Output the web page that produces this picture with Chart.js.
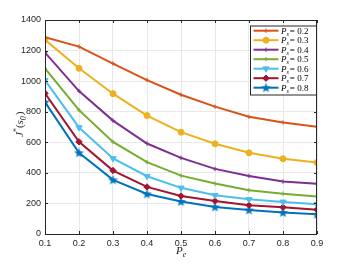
<!DOCTYPE html>
<html>
<head>
<meta charset="utf-8">
<script src="https://cdn.jsdelivr.net/npm/chart.js@4/dist/chart.umd.min.js"></script>
<style>
  html, body { margin: 0; padding: 0; background: #fff; }
  #wrap { width: 350px; height: 263px; position: relative; }
</style>
</head>
<body>
<div id="wrap"><canvas id="chart" width="350" height="263"></canvas></div>
<script>
const pe = [0.1, 0.2, 0.3, 0.4, 0.5, 0.6, 0.7, 0.8, 0.9];
const ps = ["0.2", "0.3", "0.4", "0.5", "0.6", "0.7", "0.8"];

const ps02 = [1288, 1226, 1115, 1007, 911, 833, 767, 730, 702];
const ps03 = [1270, 1084, 918, 775, 666, 590, 531, 492, 468];
const ps04 = [1187, 935, 742, 592, 498, 426, 380, 343, 328];
const ps05 = [1084, 810, 602, 470, 382, 330, 286, 264, 245];
const ps06 = [1005, 697, 494, 378, 302, 253, 227, 210, 194];
const ps07 = [920, 603, 415, 308, 249, 216, 188, 175, 159];
const ps08 = [863, 531, 354, 262, 212, 177, 157, 140, 129];

const yTicks = [0, 200, 400, 600, 800, 1000, 1200, 1400];

const mathFont = "'Liberation Serif', 'Times New Roman', serif";

// pentagram marker like matlab 'p'
function makeStar(color) {
  const c = document.createElement("canvas");
  c.width = 11;
  c.height = 11;
  const g = c.getContext("2d");
  g.fillStyle = color;
  g.beginPath();
  for (let i = 0; i < 10; i++) {
    const r = i % 2 === 0 ? 5.2 : 2.1;
    const a = -Math.PI / 2 + (i * Math.PI) / 5;
    const px = 5.5 + r * Math.cos(a);
    const py = 5.8 + r * Math.sin(a);
    if (i === 0) g.moveTo(px, py);
    else g.lineTo(px, py);
  }
  g.closePath();
  g.fill();
  return c;
}

const styles = [
  { color: "#D95319", point: "cross", radius: 2.2, rot: 0, bw: 1 },
  { color: "#EDB120", point: "circle", radius: 3, rot: 0, bw: 1 },
  { color: "#7E2F8E", point: "cross", radius: 2.2, rot: 0, bw: 1 },
  { color: "#77AC30", point: "cross", radius: 2.2, rot: 0, bw: 1 },
  { color: "#4DBEEE", point: "triangle", radius: 3.6, rot: 180, bw: 1 },
  { color: "#A2142F", point: "rectRot", radius: 3.2, rot: 0, bw: 1 },
  { color: "#0072BD", point: makeStar("#0072BD"), radius: 5, rot: 0, bw: 1 },
];

const series = [ps02, ps03, ps04, ps05, ps06, ps07, ps08];

const datasets = series.map((vals, i) => ({
  label: "Ps = " + ps[i],
  data: vals.map((v, j) => ({ x: pe[j], y: v })),
  borderColor: styles[i].color,
  backgroundColor: styles[i].color,
  borderWidth: 2,
  pointStyle: styles[i].point,
  pointRadius: styles[i].radius,
  pointRotation: styles[i].rot,
  pointBorderWidth: styles[i].bw,
  pointHoverRadius: styles[i].radius,
  tension: 0,
}));

// draw italic symbol with a subscript, then optional upright rest
function drawSub(ctx, main, sub, rest, x, y, size) {
  ctx.textBaseline = "alphabetic";
  ctx.textAlign = "left";
  ctx.font = "italic " + size + "px " + mathFont;
  ctx.fillText(main, x, y);
  x += ctx.measureText(main).width;
  ctx.font = "italic " + Math.round(size * 0.7) + "px " + mathFont;
  ctx.fillText(sub, x, y + size * 0.25);
  x += ctx.measureText(sub).width + 1;
  if (rest) {
    ctx.font = size + "px " + mathFont;
    ctx.fillText(rest, x, y);
  }
}

const framePlugin = {
  id: "frame",
  afterDraw(chart) {
    const ctx = chart.ctx;
    const a = chart.chartArea;
    const xs = chart.scales.x;
    const ys = chart.scales.y;
    ctx.save();
    // box + inward ticks
    ctx.strokeStyle = "#262626";
    ctx.lineWidth = 1;
    ctx.strokeRect(a.left + 0.5, a.top + 0.5, a.right - a.left - 1, a.bottom - a.top);
    ctx.beginPath();
    pe.forEach((v) => {
      const px = Math.round(xs.getPixelForValue(v)) + 0.5;
      ctx.moveTo(px, a.bottom);
      ctx.lineTo(px, a.bottom - 3);
      ctx.moveTo(px, a.top);
      ctx.lineTo(px, a.top + 3);
    });
    yTicks.forEach((v) => {
      const py = Math.round(ys.getPixelForValue(v)) + 0.5;
      ctx.moveTo(a.left, py);
      ctx.lineTo(a.left + 3, py);
      ctx.moveTo(a.right, py);
      ctx.lineTo(a.right - 3, py);
    });
    ctx.stroke();

    // axis titles
    ctx.fillStyle = "#262626";
    drawSub(ctx, "P", "e", null, (a.left + a.right) / 2 - 5, 254, 11);
    ctx.save();
    ctx.translate(23, (a.top + a.bottom) / 2 + 10);
    ctx.rotate(-Math.PI / 2);
    ctx.font = "italic 11px " + mathFont;
    ctx.fillText("J", 0, 0);
    let w = ctx.measureText("J").width;
    ctx.font = "8px " + mathFont;
    ctx.fillText("*", w, -4);
    w += ctx.measureText("*").width;
    ctx.font = "11px " + mathFont;
    ctx.fillText("(", w, 0);
    w += ctx.measureText("(").width;
    drawSub(ctx, "s", "0", ")", w, 0, 11);
    ctx.restore();

    // legend
    const lx = 250, ly = 25.5, lw = 66, lh = 69;
    ctx.fillStyle = "#fff";
    ctx.fillRect(lx, ly, lw, lh);
    ctx.strokeStyle = "#262626";
    ctx.strokeRect(lx + 0.5, ly + 0.5, lw, lh);
    styles.forEach((s, i) => {
      const ry = 30.7 + i * 9.5;
      ctx.strokeStyle = s.color;
      ctx.fillStyle = s.color;
      ctx.lineWidth = 2;
      ctx.beginPath();
      ctx.moveTo(253.5, ry);
      ctx.lineTo(278.5, ry);
      ctx.stroke();
      ctx.lineWidth = s.bw;
      Chart.helpers.drawPoint(ctx, {
        pointStyle: s.point,
        radius: s.radius,
        rotation: s.rot,
        borderWidth: s.bw,
      }, 266, ry);
      ctx.fillStyle = "#000";
      drawSub(ctx, "P", "s", "= " + ps[i], 281, ry + 3, 9);
    });
    ctx.restore();
  },
};

const tickFont = { family: "'Liberation Sans', Arial, sans-serif", size: 9 };

new Chart(document.getElementById("chart"), {
  type: "line",
  data: { datasets: datasets },
  options: {
    responsive: false,
    animation: false,
    events: [],
    layout: { padding: { left: 0, top: 20, right: 33, bottom: 0 } },
    plugins: { legend: { display: false }, tooltip: { enabled: false } },
    scales: {
      x: {
        type: "linear",
        min: 0.1,
        max: 0.9,
        afterFit(scale) { scale.height = 29; },
        afterBuildTicks(scale) { scale.ticks = pe.map((v) => ({ value: v })); },
        grid: { color: "#e8e8e8", drawTicks: false },
        border: { display: false },
        ticks: {
          color: "#262626",
          font: tickFont,
          padding: 4,
          maxRotation: 0,
          callback: (v) => v.toFixed(1),
        },
      },
      y: {
        min: 0,
        max: 1400,
        afterFit(scale) { scale.width = 45; },
        afterBuildTicks(scale) { scale.ticks = yTicks.map((v) => ({ value: v })); },
        grid: { color: "#e8e8e8", drawTicks: false },
        border: { display: false },
        ticks: {
          color: "#262626",
          font: tickFont,
          padding: 4,
          callback: (v) => String(v),
        },
      },
    },
  },
  plugins: [framePlugin],
});
</script>
</body>
</html>
